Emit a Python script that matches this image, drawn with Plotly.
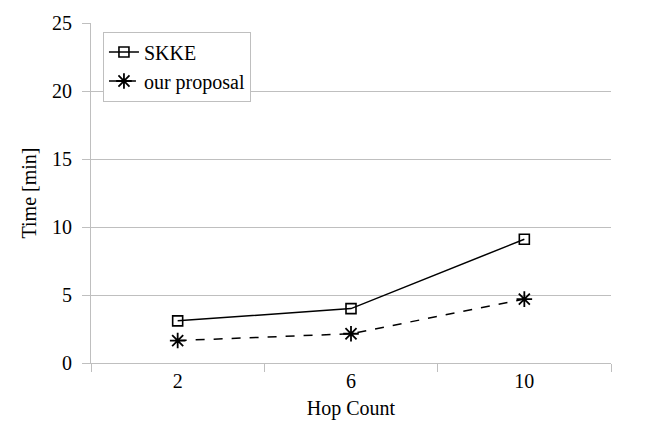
import plotly.graph_objects as go

categories = ["2", "6", "10"]
skke = [3.1, 4.0, 9.1]
proposal = [1.65, 2.15, 4.7]
y_ticks = [0, 5, 10, 15, 20, 25]

FONT = "Liberation Serif"
GRID = "#bfbfbf"

fig = go.Figure()
fig.add_trace(go.Scatter(
    x=categories, y=skke, name="SKKE", mode="lines+markers",
    line=dict(color="black", width=1.5),
    marker=dict(symbol="square-open", size=10, color="black", line=dict(width=1.6)),
))
fig.add_trace(go.Scatter(
    x=categories, y=proposal, name="our proposal", mode="lines+markers",
    line=dict(color="black", width=1.5, dash="dash"),
    marker=dict(symbol="asterisk-open", size=13, color="black", line=dict(width=1.8, color="black")),
))

fig.update_layout(
    width=652, height=433,
    margin=dict(l=91, r=41, t=16, b=70),
    paper_bgcolor="white", plot_bgcolor="white",
    font=dict(family=FONT, size=20, color="black"),
    showlegend=True,
    legend=dict(
        x=0.023, y=0.975, xanchor="left", yanchor="top",
        bgcolor="white", bordercolor=GRID, borderwidth=1,
        font=dict(family=FONT, size=20, color="black"),
        itemwidth=30, tracegroupgap=0,
    ),
    xaxis=dict(
        type="category", range=[-0.5, 2.5], tickson="boundaries",
        ticks="outside", ticklen=8, tickcolor=GRID,
        showline=True, linecolor=GRID, linewidth=1,
        showgrid=False, zeroline=False,
        tickfont=dict(family=FONT, size=20, color="black"),
        title=dict(text="Hop Count", font=dict(family=FONT, size=20, color="black"), standoff=9),
    ),
    yaxis=dict(
        range=[0, 25], tickvals=y_ticks,
        ticks="outside", ticklen=8, tickcolor=GRID,
        showline=True, linecolor=GRID, linewidth=1,
        showgrid=True, gridcolor=GRID, gridwidth=1, zeroline=False,
        tickfont=dict(family=FONT, size=20, color="black"),
        ticklabelstandoff=6,
        title=dict(text="Time [min]", font=dict(family=FONT, size=20, color="black"), standoff=10),
    ),
)

fig.write_html(
    "out.html",
    config={"displayModeBar": False},
    post_script="document.body.style.margin='0';",
)
